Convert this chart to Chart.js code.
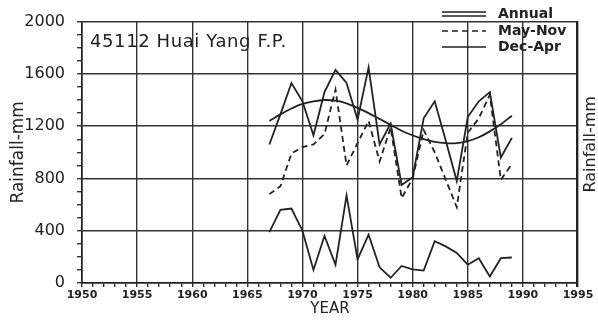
<!DOCTYPE html>
<html>
<head>
<meta charset="utf-8">
<script src="https://cdn.jsdelivr.net/npm/chart.js@4/dist/chart.umd.min.js"></script>
<style>
  html, body { margin: 0; padding: 0; background: #fff; }
  canvas { display: block; }
</style>
</head>
<body>
<canvas id="rain" width="598" height="322"></canvas>
<script>
// Station 45112 Huai Yang F.P. - seasonal rainfall (mm)
const years = [1967, 1968, 1969, 1970, 1971, 1972, 1973, 1974, 1975, 1976, 1977, 1978,
               1979, 1980, 1981, 1982, 1983, 1984, 1985, 1986, 1987, 1988, 1989];
const annual = [1060, 1290, 1530, 1390, 1130, 1460, 1630, 1530, 1250, 1650, 1060, 1220,
                750, 810, 1260, 1390, 1090, 780, 1270, 1390, 1460, 960, 1110];
const mayNov = [680, 740, 990, 1040, 1060, 1140, 1480, 900, 1070, 1240, 930, 1190,
                650, 800, 1170, 1000, 790, 580, 1150, 1260, 1440, 790, 910];
const decApr = [390, 560, 570, 400, 100, 360, 140, 670, 180, 370, 120, 40,
                130, 105, 95, 320, 280, 230, 140, 190, 50, 190, 195];
const annualTrend = [1240, 1290, 1335, 1370, 1390, 1400, 1395, 1375, 1340, 1300, 1255, 1210,
                     1165, 1130, 1100, 1080, 1070, 1070, 1085, 1115, 1160, 1215, 1280];

const xMin = 1950, xMax = 1995;
const yMin = 0, yMax = 2000;
const legendLabels = ['Annual', 'May-Nov', 'Dec-Apr'];
const stationTitle = '45112 Huai Yang F.P.';
const ink = '#222';

const pts = arr => years.map((y, i) => ({ x: y, y: arr[i] }));

// title, legend, right frame edge and right-hand axis title drawn on the canvas
const overlay = {
    id: 'overlay',
    afterDraw(chart) {
        const { ctx, chartArea: a } = chart;
        ctx.save();
        ctx.fillStyle = ink;
        ctx.strokeStyle = ink;

        ctx.lineWidth = 2;
        ctx.beginPath();
        ctx.moveTo(Math.round(a.right) - 1, a.top);
        ctx.lineTo(Math.round(a.right) - 1, a.bottom + 4);
        ctx.stroke();

        ctx.font = '18px "DejaVu Sans"';
        ctx.letterSpacing = '0.6px';
        ctx.textBaseline = 'alphabetic';
        ctx.fillText(stationTitle, a.left + 8, 47);
        ctx.letterSpacing = '0px';

        // legend samples
        ctx.lineWidth = 1.6;
        const x0 = 442, x1 = 486, tx = 498;
        const rows = [14, 31, 47];
        ctx.beginPath();
        ctx.moveTo(x0, rows[0] - 2); ctx.lineTo(x1, rows[0] - 2);
        ctx.moveTo(x0, rows[0] + 2); ctx.lineTo(x1, rows[0] + 2);
        ctx.stroke();
        ctx.setLineDash([6, 4]);
        ctx.beginPath();
        ctx.moveTo(x0, rows[1]); ctx.lineTo(x1, rows[1]);
        ctx.stroke();
        ctx.setLineDash([]);
        ctx.beginPath();
        ctx.moveTo(x0, rows[2]); ctx.lineTo(x1, rows[2]);
        ctx.stroke();

        ctx.font = 'bold 14px "DejaVu Sans"';
        ctx.textBaseline = 'middle';
        legendLabels.forEach((t, i) => ctx.fillText(t, tx, rows[i]));

        // right axis title, reads bottom to top like the left one
        ctx.translate(591, (a.top + a.bottom) / 2 - 8);
        ctx.rotate(-Math.PI / 2);
        ctx.textAlign = 'center';
        ctx.font = '16px "DejaVu Sans"';
        ctx.fillText('Rainfall-mm', 0, 0);
        ctx.restore();
    }
};

new Chart(document.getElementById('rain'), {
    type: 'line',
    data: {
        datasets: [
            { label: 'Annual', data: pts(annual), borderColor: ink, borderWidth: 1.8, tension: 0 },
            { label: 'Annual trend', data: pts(annualTrend), borderColor: ink, borderWidth: 1.8, tension: 0.4 },
            { label: 'May-Nov', data: pts(mayNov), borderColor: ink, borderWidth: 1.8, borderDash: [6, 4], tension: 0 },
            { label: 'Dec-Apr', data: pts(decApr), borderColor: ink, borderWidth: 1.8, tension: 0 }
        ]
    },
    options: {
        responsive: false,
        animation: false,
        devicePixelRatio: 1,
        layout: { padding: { top: 13, right: 20, left: 0, bottom: 0 } },
        elements: { point: { radius: 0 } },
        plugins: { legend: { display: false }, tooltip: { enabled: false } },
        scales: {
            x: {
                type: 'linear', min: xMin, max: xMax,
                ticks: {
                    stepSize: 1, autoSkip: false, maxRotation: 0, color: ink, padding: 2,
                    font: { family: 'DejaVu Sans', size: 11, weight: 'bold' },
                    callback: v => (Math.round(v) % 5 === 0 ? String(Math.round(v)) : '')
                },
                grid: {
                    color: c => (c.tick && Math.round(c.tick.value) % 5 === 0 ? '#333' : 'rgba(0,0,0,0)'),
                    lineWidth: 1.4, tickLength: 4, tickColor: '#333'
                },
                border: { color: ink, width: 1.6 },
                title: {
                    display: true, text: 'YEAR', color: ink,
                    font: { family: 'DejaVu Sans', size: 15 }, padding: { top: 0, bottom: 4 }
                },
                afterFit(s) { s.height = 39; }
            },
            y: {
                min: yMin, max: yMax,
                ticks: {
                    stepSize: 100, autoSkip: false, color: ink, padding: 12,
                    font: { family: 'DejaVu Sans', size: 16 },
                    callback: v => (v % 400 === 0 ? String(v) : '')
                },
                grid: {
                    color: c => (c.tick && c.tick.value % 400 === 0 ? '#333' : 'rgba(0,0,0,0)'),
                    lineWidth: 1.4, tickLength: 5, tickColor: '#333'
                },
                border: { color: ink, width: 1.6 },
                title: {
                    display: true, text: 'Rainfall-mm', color: ink,
                    font: { family: 'DejaVu Sans', size: 17 }, padding: { top: 8, bottom: 0 }
                },
                afterFit(s) { s.width = 82; }
            }
        }
    },
    plugins: [overlay]
});
</script>
</body>
</html>
